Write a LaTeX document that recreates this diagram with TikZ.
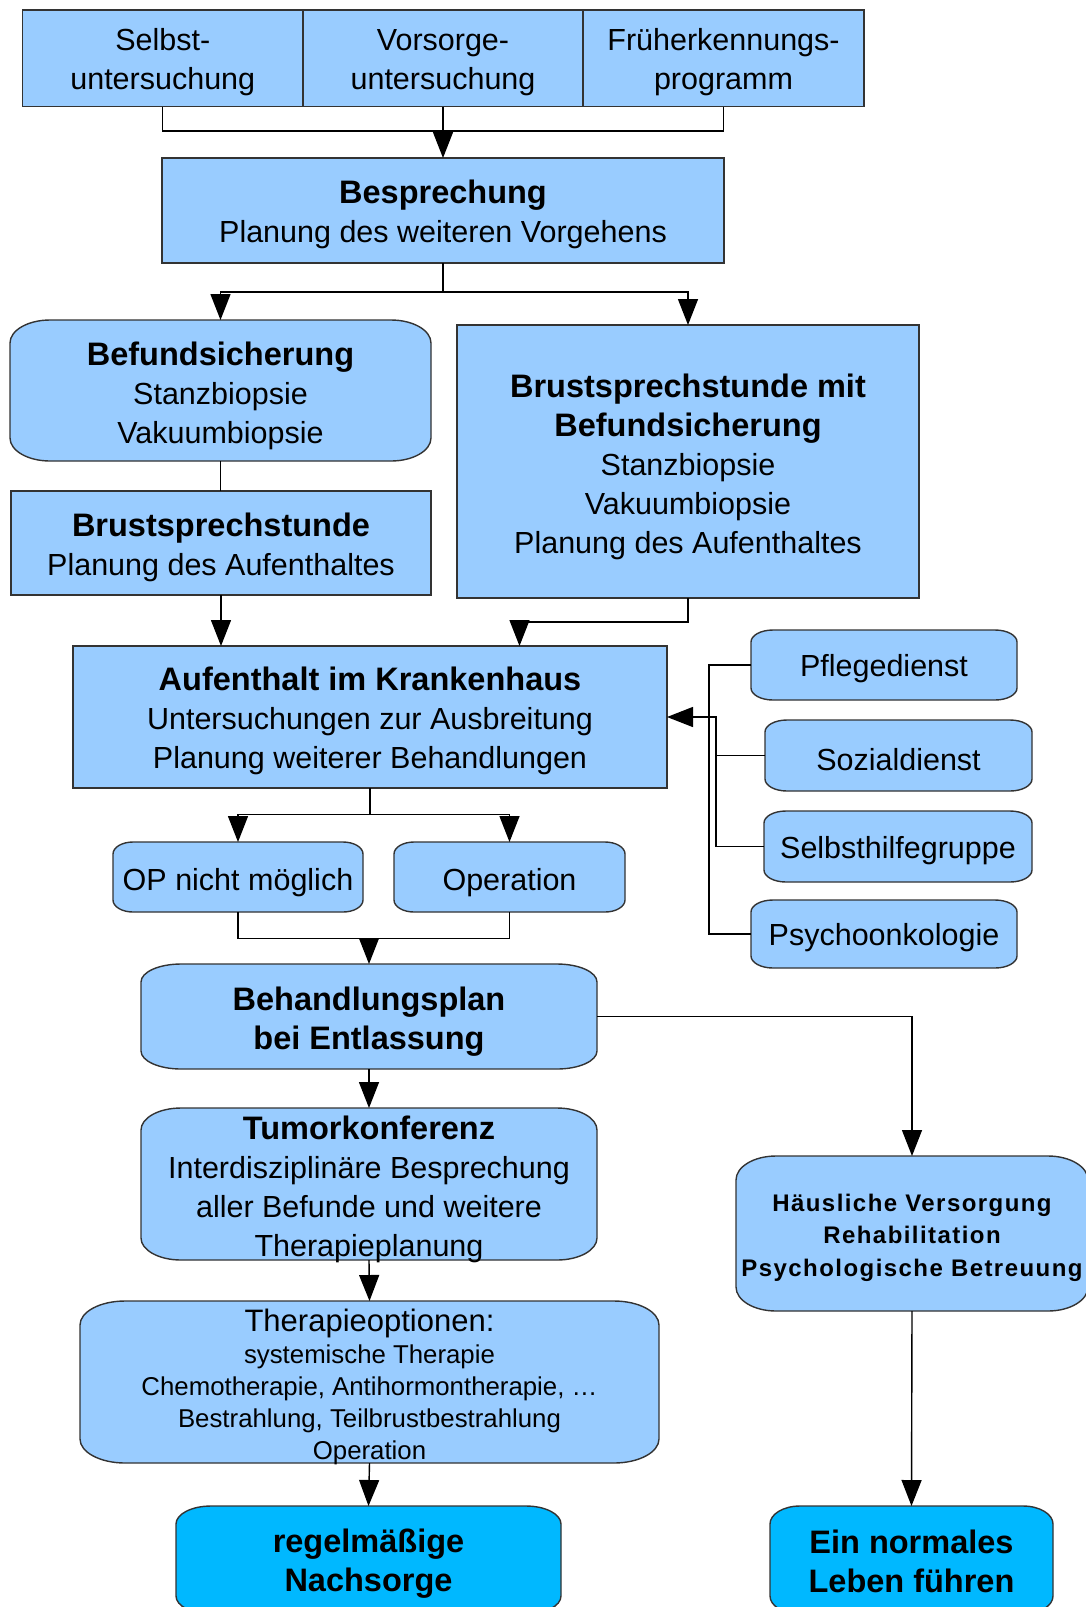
\documentclass[tikz,border=0pt]{standalone}
\usepackage{fontspec}
\setmainfont{Liberation Sans}
\newfontfamily\spacedfont[LetterSpace=6]{Liberation Sans}
\usetikzlibrary{arrows.meta,calc}
\definecolor{boxblue}{HTML}{99CCFF}
\definecolor{skyblue}{HTML}{00B8FF}
\definecolor{edge}{HTML}{333333}
\newcommand\bt[1]{{\fontsize{32.5}{39}\selectfont\bfseries #1}}
\tikzset{
 sz/.style 2 args={minimum width=#1pt,minimum height=#2pt},
 rbox/.style={draw=edge, line width=1.4pt, fill=boxblue, inner sep=0pt, outer sep=0pt},
 ebox/.style={draw=none, fill=none, inner sep=0pt, outer sep=0pt},
 txt/.style={align=center, inner sep=0pt, yshift=-4pt, font=\fontsize{30.5}{39}\selectfont},
 conn/.style={line width=1.4pt, draw=black},
 arr/.style={conn, -{Triangle[width=20pt,length=26pt]}},
}
\newcommand\eshape[4]{%
 \path[draw=edge, line width=1.4pt, fill=#4]
  ([yshift=-#3pt]#1.north west) arc[start angle=180,end angle=90,x radius=#2pt,y radius=#3pt]
  -- ([xshift=-#2pt]#1.north east) arc[start angle=90,end angle=0,x radius=#2pt,y radius=#3pt]
  -- ([yshift=#3pt]#1.south east) arc[start angle=0,end angle=-90,x radius=#2pt,y radius=#3pt]
  -- ([xshift=#2pt]#1.south west) arc[start angle=270,end angle=180,x radius=#2pt,y radius=#3pt]
  -- cycle;}
\begin{document}
\begin{tikzpicture}[x=1pt,y=1pt]
\useasboundingbox (0,0) rectangle (1086,-1607);
\clip (0,0) rectangle (1086,-1607);
\fill[white] (0,0) rectangle (1086,-1607);

% top row
\node[rbox, sz={280.5}{96.5}] (sel) at (162.75,-58.25) {};
\node[rbox, sz={280}{96.5}] (vor) at (443,-58.25) {};
\node[rbox, sz={281}{96.5}] (fru) at (723.5,-58.25) {};
\node[txt] (selT) at (sel) {Selbst-\\untersuchung};
\node[txt] (vorT) at (vor) {Vorsorge-\\untersuchung};
\node[txt] (fruT) at (fru) {Früherkennungs-\\programm};

\node[rbox, sz={562}{105}] (bes) at (443,-210.5) {};
\node[txt] (besT) at (bes) {\bt{Besprechung}\\Planung des weiteren Vorgehens};

\node[ebox, sz={421}{141}] (bef) at (220.5,-390.5) {};
\eshape{bef}{40}{23}{boxblue}
\node[txt] (befT) at ([yshift=-1pt]bef) {\bt{Befundsicherung}\\Stanzbiopsie\\Vakuumbiopsie};

\node[rbox, sz={420}{104}] (bru) at (221,-543) {};
\node[txt] (bruT) at (bru) {\bt{Brustsprechstunde}\\Planung des Aufenthaltes};

\node[rbox, sz={462}{273}] (brm) at (688,-461.5) {};
\node[txt] (brmT) at ([yshift=-1pt]brm) {\bt{Brustsprechstunde mit}\\\bt{Befundsicherung}\\Stanzbiopsie\\Vakuumbiopsie\\Planung des Aufenthaltes};

\node[rbox, sz={594}{142}] (auf) at (370,-717) {};
\node[txt] (aufT) at (auf) {\bt{Aufenthalt im Krankenhaus}\\Untersuchungen zur Ausbreitung\\Planung weiterer Behandlungen};

% right side services
\node[ebox, sz={266}{70}] (pfl) at (884,-665) {};
\eshape{pfl}{22}{12}{boxblue}
\node[txt] (pflT) at (pfl) {Pflegedienst};
\node[ebox, sz={267}{71}] (soz) at (898.5,-755.5) {};
\eshape{soz}{22}{12}{boxblue}
\node[txt] (sozT) at (soz) {Sozialdienst};
\node[ebox, sz={268}{71}] (shg) at (898,-846.5) {};
\eshape{shg}{22}{12}{boxblue}
\node[txt] (shgT) at (shg) {Selbsthilfegruppe};
\node[ebox, sz={266}{68}] (psy) at (884,-934) {};
\eshape{psy}{22}{12}{boxblue}
\node[txt] (psyT) at (psy) {Psychoonkologie};

% OP row
\node[ebox, sz={250}{70}] (opn) at (238,-877) {};
\eshape{opn}{20}{12}{boxblue}
\node[txt] (opnT) at ([yshift=-2pt]opn) {OP nicht möglich};
\node[ebox, sz={231}{70}] (ope) at (509.5,-877) {};
\eshape{ope}{20}{12}{boxblue}
\node[txt] (opeT) at ([yshift=-2pt]ope) {Operation};

\node[ebox, sz={456}{105}] (beh) at (369,-1016.5) {};
\eshape{beh}{40}{18}{boxblue}
\node[txt] (behT) at ([yshift=-1pt]beh) {\bt{Behandlungsplan}\\\bt{bei Entlassung}};

\node[ebox, sz={456}{152}] (tum) at (369,-1184) {};
\eshape{tum}{40}{22}{boxblue}
\node[txt] (tumT) at ([yshift=-1pt]tum) {\bt{Tumorkonferenz}\\Interdisziplinäre Besprechung\\aller Befunde und weitere\\Therapieplanung};

\node[ebox, sz={579}{162}] (the) at (369.5,-1382) {};
\eshape{the}{45}{24}{boxblue}
\node[txt, font=\fontsize{25.8}{32}\selectfont] (theT) at ([yshift=-0.5pt]the) {{\fontsize{31}{32}\selectfont Therapieoptionen:}\\systemische Therapie\\Chemotherapie, Antihormontherapie, \dots\\Bestrahlung, Teilbrustbestrahlung\\Operation};

\node[ebox, sz={385}{108}] (reg) at (368.5,-1560) {};
\eshape{reg}{35}{18}{skyblue}
\node[txt] (regT) at (reg) {\bt{regelmäßige}\\\bt{Nachsorge}};

\node[ebox, sz={352}{155}] (hae) at (912,-1233.5) {};
\eshape{hae}{40}{24}{boxblue}
\node[txt, font=\fontsize{24}{32.5}\selectfont\spacedfont\bfseries] (haeT) at (hae) {Häusliche Versorgung\\Rehabilitation\\Psychologische Betreuung};

\node[ebox, sz={283}{108}] (ein) at (911.5,-1560) {};
\eshape{ein}{30}{18}{skyblue}
\node[txt] (einT) at ([yshift=3pt]ein) {\bt{Ein normales}\\\bt{Leben führen}};

% connectors
\draw[conn] (sel.south) -- ++(0,-24.5) -| (fru.south);
\draw[arr] (vor.south) -- (bes.north);
\draw[arr] (bes.south) -- ++(0,-29) -| (bef.north);
\draw[arr] (bes.south) -- ++(0,-29) -| (brm.north);
\draw[conn] (bef.south) -- (bef.south |- bru.north);
\draw[arr] (bru.south) -- (bru.south |- auf.north);
\draw[arr] (brm.south) -- ++(0,-24) -| ([xshift=149.5pt]auf.north);
\draw[conn] (pfl.west) -- ++(-42,0) |- (psy.west);
\draw[conn] (soz.west) -- ++(-49,0) |- (shg.west);
\draw[arr] ([xshift=-49pt]soz.west) |- (auf.east);
\draw[arr] (auf.south) -- ++(0,-26.5) -| (opn.north);
\draw[arr] (auf.south) -- ++(0,-26.5) -| (ope.north);
\draw[conn] (opn.south) -- ++(0,-26.5) -| (ope.south);
\draw[arr] ([yshift=25.5pt]beh.north) -- (beh.north);
\draw[arr] (beh.east) -| (hae.north);
\draw[arr] (beh.south) -- (tum.north);
\draw[arr] (tum.south) -- (the.north);
\draw[arr] (the.south) -- (reg.north);
\draw[arr] (hae.south) -- (ein.north);
\end{tikzpicture}
\end{document}
